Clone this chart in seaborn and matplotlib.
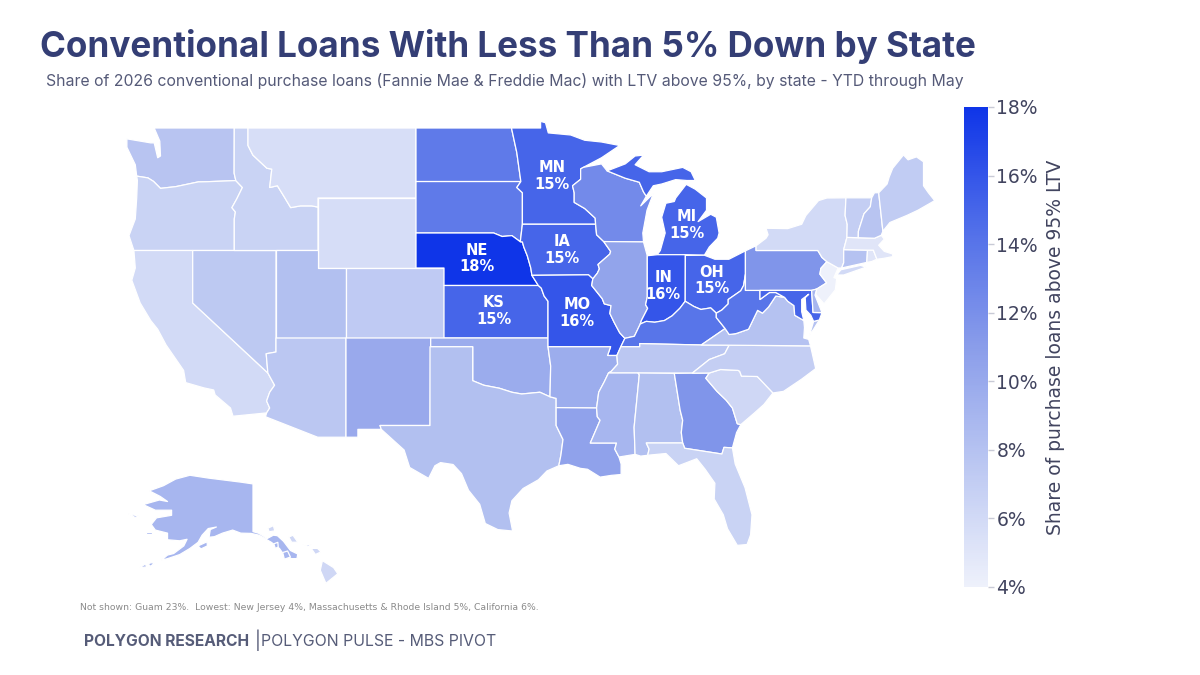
import matplotlib
matplotlib.use("Agg")
import matplotlib.pyplot as plt
import numpy as np
import seaborn as sns
from matplotlib.cm import ScalarMappable
from matplotlib.collections import PolyCollection
from matplotlib.colors import Normalize

TITLE = "Conventional Loans With Less Than 5% Down by State"
SUBTITLE = ("Share of 2026 conventional purchase loans (Fannie Mae & Freddie Mac) "
            "with LTV above 95%, by state - YTD through May")
NOTE = "Not shown: Guam 23%.  Lowest: New Jersey 4%, Massachusetts & Rhode Island 5%, California 6%."
BAR_LABEL = "Share of purchase loans above 95% LTV"
BAR_TICKS = [4, 6, 8, 10, 12, 14, 16, 18]

STATE_CODES = ["WA", "OR", "CA", "NV", "ID", "MT", "WY", "UT", "AZ", "CO", "NM", "ND", "SD",
               "NE", "KS", "OK", "TX", "MN", "IA", "MO", "AR", "LA", "WI", "IL", "MI", "IN",
               "OH", "KY", "TN", "MS", "AL", "GA", "FL", "SC", "NC", "VA", "WV", "PA", "MD",
               "DE", "NJ", "NY", "CT", "RI", "MA", "VT", "NH", "ME", "AK", "HI"]
STATE_VALUES = [7.8, 6.6, 6.0, 7.4, 6.6, 5.6, 5.7, 8.2, 7.6, 7.3, 10.0, 13.6, 13.6,
                18.0, 15.0, 9.8, 8.2, 15.0, 15.0, 16.0, 9.7, 10.6, 12.4, 10.4, 15.0, 16.0,
                15.0, 14.0, 7.6, 9.0, 8.2, 11.6, 6.6, 6.2, 7.0, 8.0, 14.0, 11.6, 15.0,
                9.0, 4.0, 6.0, 8.0, 5.0, 5.0, 7.0, 7.8, 7.2, 9.0, 6.2]

LABEL_CODES = ["NE", "KS", "MN", "MI", "IA", "OH", "IN", "MO"]
LABEL_TEXT = ["18%", "15%", "15%", "15%", "15%", "15%", "16%", "16%"]
LABEL_LON = [-99.7, -98.48, -94.34, -84.7, -93.6, -82.9, -86.4, -92.55]
LABEL_LAT = [41.55, 38.54, 46.26, 43.46, 42.03, 40.3, 39.97, 38.43]

# shared borders, lon/lat
MN_WI = [(-92.1, 46.75), (-92.29, 46.66), (-92.29, 46.07), (-92.87, 45.7), (-92.75, 45.3),
         (-92.75, 44.75), (-92.0, 44.4), (-91.25, 43.85), (-91.22, 43.5)]
IA_WI = [(-91.22, 43.5), (-91.15, 42.9), (-90.64, 42.51)]
IA_IL = [(-90.64, 42.51), (-90.15, 41.95), (-90.2, 41.8), (-91.05, 41.2), (-90.95, 40.95),
         (-91.1, 40.7), (-91.42, 40.38)]
MO_IL = [(-91.42, 40.38), (-91.5, 40.0), (-90.75, 39.25), (-90.6, 38.95), (-90.12, 38.85),
         (-90.2, 38.4), (-89.9, 37.9), (-89.5, 37.3), (-89.13, 36.98)]
TN_AR_MS = [(-89.7, 36.0), (-89.65, 35.5), (-90.1, 35.1), (-90.3, 35.0)]
AR_MS = [(-90.3, 35.0), (-90.6, 34.5), (-91.0, 33.9), (-91.15, 33.0)]
MS_LA = [(-91.15, 33.0), (-91.1, 32.5), (-90.9, 32.3), (-91.6, 31.0), (-89.73, 31.0),
         (-89.85, 30.65), (-89.55, 30.2)]
OHIO_WV = [(-80.52, 40.64), (-80.65, 40.0), (-80.85, 39.7), (-81.75, 39.2), (-81.75, 38.95),
           (-82.2, 38.6), (-82.6, 38.42)]
OH_KY = [(-82.6, 38.42), (-83.0, 38.72), (-83.7, 38.63), (-84.2, 38.8), (-84.82, 39.1)]
IN_KY = [(-84.82, 39.1), (-85.2, 38.7), (-85.75, 38.27), (-86.3, 38.0), (-87.0, 37.9),
         (-87.6, 37.95), (-88.03, 37.8)]
IL_IN = [(-87.53, 41.7), (-87.53, 39.35), (-87.65, 38.9), (-87.5, 38.7), (-87.95, 38.0),
         (-88.03, 37.8)]
VA_WV = [(-77.72, 39.32), (-78.35, 39.4), (-78.87, 38.77), (-79.3, 38.42), (-79.65, 38.58),
         (-80.3, 37.5), (-81.2, 37.25), (-81.68, 37.2), (-81.97, 37.54)]
TN_NC = [(-81.68, 36.59), (-82.0, 36.1), (-83.1, 35.77), (-84.32, 34.99)]
NC_SC = [(-83.1, 35.0), (-82.3, 35.2), (-81.05, 35.15), (-80.93, 35.1), (-80.8, 34.82),
         (-79.67, 34.8), (-78.55, 33.86)]
GA_SC = [(-80.85, 32.05), (-81.1, 32.1), (-81.45, 33.0), (-81.9, 33.45), (-82.55, 33.95),
         (-83.35, 34.7), (-83.1, 35.0)]
GA_AL = [(-85.6, 34.98), (-85.18, 32.87), (-85.0, 32.3), (-85.1, 31.6), (-85.0, 31.0)]
MO_KS = [(-94.62, 39.1), (-94.9, 39.4), (-95.1, 39.85), (-95.31, 40.0)]
NE_IA = [(-95.31, 40.0), (-95.77, 40.58), (-95.85, 41.0), (-96.1, 41.7), (-96.35, 42.2),
         (-96.45, 42.49), (-96.6, 42.5)]
NE_SD = [(-96.6, 42.5), (-97.2, 42.85), (-97.9, 42.8), (-98.5, 43.0), (-104.05, 43.0)]
OR_WA = [(-116.92, 45.995), (-119.0, 45.93), (-119.6, 45.92), (-121.2, 45.65), (-122.3, 45.55),
         (-122.8, 45.95), (-123.2, 46.15), (-124.0, 46.25)]
ID_OR = [(-116.92, 45.995), (-116.45, 45.6), (-116.85, 44.95), (-117.2, 44.45), (-116.95, 44.2),
         (-117.03, 43.8), (-117.03, 42.0)]
ID_MT = [(-116.05, 48.0), (-115.7, 47.45), (-114.7, 46.7), (-114.35, 46.65), (-114.5, 45.6),
         (-113.95, 45.7), (-113.45, 45.05), (-113.0, 44.45), (-112.3, 44.55), (-111.5, 44.55),
         (-111.05, 44.48)]
AZ_CA = [(-114.63, 35.0), (-114.15, 34.3), (-114.5, 33.9), (-114.72, 33.4), (-114.5, 33.0),
         (-114.72, 32.72)]
RED_RIVER = [(-94.48, 33.64), (-95.2, 33.9), (-96.5, 33.8), (-97.2, 33.9), (-98.1, 34.13),
             (-99.2, 34.3), (-100.0, 34.56)]
MD_VA = [(-76.35, 38.0), (-77.0, 38.3), (-77.05, 38.85), (-77.5, 39.1), (-77.72, 39.32)]

rev = lambda chain: chain[::-1]

STATE_SHAPES = {
    "WA": [[(-124.7, 48.38), (-123.0, 48.15), (-122.75, 48.15), (-122.5, 47.3), (-122.3, 47.4),
            (-122.35, 48.25), (-122.75, 49.0), (-117.03, 49.0), (-117.04, 46.42)] + OR_WA
           + [(-124.1, 46.9), (-124.7, 47.9)]],
    "OR": [rev(OR_WA) + ID_OR[1:] + [(-124.2, 42.0), (-124.55, 42.85), (-124.1, 43.8),
                                     (-124.0, 45.0), (-123.95, 46.0)]],
    "CA": [[(-124.2, 42.0), (-120.0, 42.0), (-120.0, 39.0)] + AZ_CA
           + [(-117.12, 32.53), (-117.3, 33.0), (-118.4, 33.75), (-118.5, 34.03), (-119.2, 34.15),
              (-120.5, 34.45), (-120.65, 35.15), (-121.9, 36.6), (-122.5, 37.5), (-123.0, 38.0),
              (-123.75, 39.0), (-124.35, 40.3), (-124.1, 41.0)]],
    "NV": [[(-120.0, 42.0), (-114.05, 42.0), (-114.05, 36.2), (-114.75, 36.1), (-114.63, 35.0),
            (-120.0, 39.0)]],
    "ID": [[(-117.03, 49.0), (-116.05, 49.0)] + ID_MT + [(-111.05, 42.0)] + rev(ID_OR)
           + [(-117.04, 46.42)]],
    "MT": [[(-116.05, 49.0), (-104.05, 49.0), (-104.05, 45.0), (-111.05, 45.0)] + rev(ID_MT)],
    "WY": [[(-111.05, 45.0), (-104.05, 45.0), (-104.05, 41.0), (-111.05, 41.0)]],
    "UT": [[(-114.05, 42.0), (-111.05, 42.0), (-111.05, 41.0), (-109.05, 41.0), (-109.05, 37.0),
            (-114.05, 37.0)]],
    "AZ": [[(-114.05, 37.0), (-109.05, 37.0), (-109.05, 31.33), (-111.07, 31.33), (-114.8, 32.5)]
           + rev(AZ_CA) + [(-114.75, 36.1), (-114.05, 36.2)]],
    "CO": [[(-109.05, 41.0), (-102.05, 41.0), (-102.05, 37.0), (-109.05, 37.0)]],
    "NM": [[(-109.05, 37.0), (-103.0, 37.0), (-103.05, 32.0), (-106.62, 32.0), (-106.53, 31.78),
            (-108.2, 31.78), (-108.2, 31.33), (-109.05, 31.33)]],
    "ND": [[(-104.05, 49.0), (-97.23, 49.0), (-96.85, 47.6), (-96.56, 45.94), (-104.05, 45.94)]],
    "SD": [[(-104.05, 45.94), (-96.56, 45.94), (-96.85, 45.6), (-96.45, 45.3), (-96.45, 43.5)]
           + NE_SD],
    "NE": [[(-104.05, 43.0), (-98.5, 43.0), (-97.9, 42.8), (-97.2, 42.85)] + rev(NE_IA)
           + [(-102.05, 40.0), (-102.05, 41.0), (-104.05, 41.0)]],
    "KS": [[(-102.05, 40.0)] + rev(MO_KS) + [(-94.62, 37.0), (-102.05, 37.0)]],
    "OK": [[(-103.0, 37.0), (-94.62, 37.0), (-94.62, 36.5), (-94.43, 35.4)] + RED_RIVER
           + [(-100.0, 36.5), (-103.0, 36.5)]],
    "TX": [[(-103.05, 36.5), (-100.0, 36.5)] + rev(RED_RIVER)
           + [(-94.04, 33.55), (-94.04, 32.0), (-93.55, 31.2), (-93.7, 30.3), (-93.85, 29.7),
              (-94.7, 29.4), (-95.3, 28.9), (-96.4, 28.4), (-97.2, 27.7), (-97.4, 27.0),
              (-97.15, 25.97), (-98.2, 26.05), (-99.1, 26.4), (-99.5, 27.5), (-100.3, 28.3),
              (-100.8, 29.25), (-101.4, 29.77), (-102.3, 29.88), (-102.7, 29.7), (-103.15, 28.98),
              (-104.5, 29.6), (-104.9, 30.6), (-106.53, 31.78), (-106.62, 32.0), (-103.05, 32.0)]],
    "MN": [[(-97.23, 49.0), (-95.15, 49.0), (-95.15, 49.38), (-94.8, 49.3), (-94.6, 48.72),
            (-93.0, 48.6), (-92.0, 48.3), (-90.8, 48.2), (-89.5, 48.0), (-90.8, 47.3)] + MN_WI
           + [(-96.45, 43.5), (-96.45, 45.3), (-96.85, 45.6), (-96.56, 45.94), (-96.85, 47.6)]],
    "IA": [[(-96.45, 43.5)] + IA_WI + IA_IL[1:] + [(-91.73, 40.61), (-95.77, 40.58)]
           + NE_IA[2:]],
    "MO": [[(-95.77, 40.58), (-91.73, 40.61)] + MO_IL
           + [(-89.42, 36.5), (-89.7, 36.0), (-90.37, 36.0), (-90.15, 36.5), (-94.62, 36.5)]
           + MO_KS],
    "AR": [[(-94.62, 36.5), (-90.15, 36.5), (-90.37, 36.0)] + TN_AR_MS + AR_MS[1:]
           + [(-94.04, 33.02), (-94.04, 33.55), (-94.48, 33.64), (-94.43, 35.4)]],
    "LA": [[(-94.04, 33.02)] + MS_LA
           + [(-89.4, 29.8), (-89.4, 29.2), (-90.1, 29.15), (-90.9, 29.05), (-91.8, 29.5),
              (-92.3, 29.55), (-93.2, 29.78), (-93.85, 29.7), (-93.7, 30.3), (-93.55, 31.2),
              (-94.04, 32.0)]],
    "WI": [[(-92.1, 46.75), (-90.8, 46.95), (-90.4, 46.55), (-89.1, 46.13), (-88.1, 45.9),
            (-87.8, 45.35), (-87.6, 45.1), (-88.0, 44.55), (-87.1, 45.25), (-87.55, 44.3),
            (-87.85, 43.0), (-87.8, 42.49)] + rev(IA_WI) + rev(MN_WI)[1:]],
    "IL": [[(-90.64, 42.51), (-87.8, 42.49)] + IL_IN + [(-88.45, 37.1)] + rev(MO_IL) + rev(IA_IL)[1:]],
    "IN": [[(-87.53, 41.7), (-86.82, 41.76), (-84.81, 41.76)] + IN_KY + rev(IL_IN)[1:]],
    "OH": [[(-84.81, 41.72), (-83.45, 41.73), (-82.7, 41.5), (-81.7, 41.5), (-80.52, 41.98)]
           + OHIO_WV + OH_KY[1:]],
    "MI": [[(-86.82, 41.76), (-84.81, 41.76), (-83.45, 41.73), (-83.1, 42.2), (-82.5, 42.7),
            (-82.4, 43.0), (-82.6, 43.9), (-83.0, 44.07), (-83.9, 43.65), (-83.3, 44.3),
            (-83.3, 45.0), (-84.1, 45.5), (-84.75, 45.78), (-85.5, 45.0), (-85.6, 44.8),
            (-86.2, 44.7), (-86.5, 43.9), (-86.25, 43.0), (-86.6, 42.0)],
           [(-90.4, 46.55), (-89.1, 46.95), (-88.4, 47.4), (-87.8, 47.45), (-88.4, 46.9),
            (-87.4, 46.5), (-86.5, 46.5), (-85.0, 46.75), (-84.4, 46.5), (-84.1, 46.0),
            (-84.7, 46.0), (-85.5, 46.05), (-86.5, 45.8), (-87.1, 45.7), (-87.6, 45.1),
            (-87.8, 45.35), (-88.1, 45.9), (-89.1, 46.13)]],
    "KY": [[(-89.42, 36.5), (-89.13, 36.98), (-88.45, 37.1)] + rev(IN_KY) + rev(OH_KY)[1:]
           + [(-82.6, 38.17), (-81.97, 37.54), (-83.68, 36.6), (-88.07, 36.68), (-88.07, 36.5)]],
    "TN": [[(-89.42, 36.5), (-88.07, 36.5), (-88.07, 36.68), (-83.68, 36.6)] + TN_NC
           + rev(TN_AR_MS)],
    "MS": [[(-90.3, 35.0), (-88.2, 35.0), (-88.1, 34.9), (-88.47, 31.9), (-88.4, 30.35)]
           + rev(MS_LA) + rev(AR_MS)[1:]],
    "AL": [[(-88.2, 35.0)] + GA_AL + [(-87.6, 31.0), (-87.4, 30.65), (-87.5, 30.3), (-88.0, 30.25),
                                      (-88.4, 30.35), (-88.47, 31.9), (-88.1, 34.9)]],
    "GA": [[(-85.6, 34.98), (-84.32, 34.99)] + rev(GA_SC)
           + [(-81.15, 31.6), (-81.45, 30.72), (-82.05, 30.75), (-82.2, 30.37), (-84.86, 30.7)]
           + rev(GA_AL)[:-1]],
    "FL": [[(-87.6, 31.0), (-85.0, 31.0), (-84.86, 30.7), (-82.2, 30.37), (-82.05, 30.75),
            (-81.45, 30.72), (-81.25, 29.8), (-80.55, 28.45), (-80.05, 26.9), (-80.15, 25.75),
            (-80.4, 25.2), (-81.1, 25.15), (-81.8, 26.1), (-82.1, 26.9), (-82.75, 27.8),
            (-82.7, 28.7), (-83.4, 29.5), (-84.0, 30.1), (-85.3, 29.7), (-86.2, 30.4),
            (-87.5, 30.3), (-87.4, 30.65)]],
    "SC": [NC_SC + [(-79.2, 33.2), (-79.9, 32.7)] + GA_SC],
    "NC": [[(-81.68, 36.59), (-75.87, 36.55), (-75.5, 35.25), (-76.5, 34.65), (-77.8, 33.95)]
           + rev(NC_SC) + rev(TN_NC)[:-1]],
    "VA": [[(-81.68, 36.59), (-75.87, 36.55), (-76.0, 36.92), (-76.35, 37.0), (-76.3, 37.6)]
           + MD_VA + VA_WV[1:] + [(-83.68, 36.6)],
           [(-75.24, 38.03), (-75.65, 37.95), (-75.95, 37.15), (-75.65, 37.5)]],
    "WV": [[(-80.52, 40.64), (-80.52, 39.72), (-79.48, 39.72), (-79.48, 39.2), (-78.8, 39.6),
            (-78.35, 39.6)] + VA_WV + [(-82.6, 38.17)] + rev(OHIO_WV)[:-1]],
    "PA": [[(-80.52, 41.98), (-79.76, 42.27), (-79.76, 42.0), (-75.35, 42.0), (-75.05, 41.6),
            (-74.7, 41.36), (-75.13, 40.98), (-75.2, 40.65), (-74.72, 40.15), (-75.42, 39.8),
            (-75.79, 39.72), (-80.52, 39.72), (-80.52, 40.64)]],
    "MD": [[(-79.48, 39.72), (-75.79, 39.72), (-75.69, 38.46), (-75.05, 38.45), (-75.24, 38.03),
            (-75.65, 37.95), (-75.85, 38.3), (-76.2, 38.6), (-76.25, 39.3), (-76.0, 39.5),
            (-76.5, 39.2), (-76.5, 38.5), (-76.35, 38.0)] + MD_VA[1:]
           + [(-78.35, 39.6), (-78.8, 39.6), (-79.48, 39.2)]],
    "DE": [[(-75.79, 39.72), (-75.42, 39.8), (-75.55, 39.45), (-75.05, 38.45), (-75.69, 38.46)]],
    "NJ": [[(-74.7, 41.36), (-73.9, 41.0), (-74.2, 40.45), (-74.0, 40.4), (-74.1, 39.75),
            (-74.9, 38.95), (-75.5, 39.5), (-75.42, 39.8), (-74.72, 40.15), (-75.2, 40.65),
            (-75.13, 40.98)]],
    "NY": [[(-79.76, 42.27), (-79.05, 42.7), (-78.9, 42.9), (-79.05, 43.27), (-77.5, 43.25),
            (-76.5, 43.5), (-76.2, 44.0), (-75.3, 44.85), (-74.7, 45.0), (-73.34, 45.01),
            (-73.4, 44.0), (-73.25, 43.5), (-73.27, 42.75), (-73.5, 42.05), (-73.5, 41.3),
            (-73.65, 41.0), (-73.9, 41.0), (-74.7, 41.36), (-75.05, 41.6), (-75.35, 42.0),
            (-79.76, 42.0)],
           [(-74.0, 40.6), (-73.7, 40.9), (-72.3, 41.15), (-71.9, 41.05), (-73.5, 40.6)]],
    "CT": [[(-73.5, 42.05), (-71.8, 42.02), (-71.85, 41.32), (-73.65, 41.0), (-73.5, 41.3)]],
    "RI": [[(-71.8, 42.02), (-71.38, 42.02), (-71.13, 41.5), (-71.5, 41.37), (-71.85, 41.32)]],
    "MA": [[(-73.5, 42.05), (-73.27, 42.75), (-72.46, 42.73), (-71.3, 42.7), (-70.82, 42.87),
            (-70.6, 42.65), (-71.0, 42.3), (-70.6, 41.95), (-70.0, 41.8), (-70.0, 41.65),
            (-70.65, 41.55), (-71.13, 41.5), (-71.38, 42.02), (-71.8, 42.02)]],
    "VT": [[(-73.34, 45.01), (-71.5, 45.01), (-71.6, 44.5), (-72.05, 44.1), (-72.45, 43.1),
            (-72.46, 42.73), (-73.27, 42.75), (-73.25, 43.5), (-73.4, 44.0)]],
    "NH": [[(-71.5, 45.01), (-71.3, 45.3), (-71.0, 45.3), (-70.7, 43.1), (-70.82, 42.87),
            (-71.3, 42.7), (-72.46, 42.73), (-72.45, 43.1), (-72.05, 44.1), (-71.6, 44.5)]],
    "ME": [[(-71.0, 45.3), (-70.4, 45.8), (-70.25, 46.2), (-70.0, 46.7), (-69.23, 47.46),
            (-68.9, 47.18), (-68.3, 47.35), (-67.8, 47.07), (-67.8, 45.7), (-67.45, 45.3),
            (-67.0, 44.85), (-68.2, 44.3), (-69.0, 44.0), (-70.2, 43.6), (-70.7, 43.1)]],
}

ALASKA_SHAPES = [
    [(-141.0, 69.65), (-141.0, 60.3), (-139.5, 59.95), (-137.5, 58.95), (-136.0, 59.6),
     (-135.0, 59.5), (-133.5, 58.4), (-131.8, 56.6), (-130.0, 55.9), (-130.2, 55.0),
     (-131.5, 55.0), (-133.2, 55.5), (-134.5, 57.0), (-136.5, 58.2), (-139.5, 59.6),
     (-141.5, 59.95), (-144.0, 60.0), (-146.0, 60.6), (-148.5, 60.0), (-150.5, 59.3),
     (-151.8, 59.2), (-151.5, 60.7), (-150.0, 61.2), (-152.0, 60.9), (-153.5, 59.6),
     (-154.5, 58.2), (-156.5, 57.0), (-159.0, 55.8), (-162.0, 55.0), (-163.5, 54.7),
     (-162.0, 55.7), (-160.5, 56.0), (-158.0, 57.5), (-157.2, 58.8), (-159.0, 58.5),
     (-162.0, 58.7), (-162.0, 60.0), (-165.0, 60.6), (-166.0, 61.7), (-164.7, 63.0),
     (-161.0, 63.5), (-161.0, 64.5), (-165.0, 64.5), (-168.0, 65.6), (-164.0, 66.5),
     (-162.0, 66.2), (-163.8, 67.2), (-166.5, 68.3), (-163.0, 69.3), (-160.0, 70.6),
     (-156.5, 71.35), (-152.0, 70.8), (-148.0, 70.4), (-144.0, 70.0)],
    [(-154.5, 57.5), (-152.3, 58.3), (-152.2, 57.5), (-153.8, 56.9)],
    [(-167.3, 60.3), (-165.7, 60.3), (-165.7, 59.9), (-167.2, 59.9)],
    [(-171.7, 63.8), (-168.8, 63.3), (-170.0, 63.1)],
    [(-166.8, 54.0), (-166.0, 54.2), (-165.2, 54.1), (-166.2, 53.5)],
    [(-169.0, 53.2), (-167.5, 53.9), (-167.0, 53.4)],
    [(-135.9, 57.9), (-134.9, 58.2), (-134.8, 57.3), (-135.5, 57.0)],
    [(-133.7, 56.2), (-132.5, 56.5), (-131.8, 55.3), (-133.3, 54.9)],
]

HAWAII_SHAPES = [
    [(-159.8, 22.1), (-159.4, 22.25), (-159.3, 21.95), (-159.7, 21.9)],
    [(-158.3, 21.6), (-158.0, 21.7), (-157.65, 21.3), (-158.1, 21.3)],
    [(-157.3, 21.2), (-156.7, 21.15), (-156.9, 21.05)],
    [(-156.7, 20.95), (-156.25, 20.95), (-156.0, 20.75), (-156.4, 20.6)],
    [(-155.9, 20.25), (-155.1, 19.85), (-154.8, 19.5), (-155.65, 18.95), (-156.05, 19.7)],
]

# pixels of the reference per degree
PX_LON = 14.0
PX_LAT = 17.5


def inset_polys(shapes, lon0, lat0, x0, y0, sx, sy):
    # move an inset state to its place under the lower 48
    out = []
    for shape in shapes:
        arr = np.array(shape)
        px = x0 + (arr[:, 0] - lon0) * sx
        py = y0 + (lat0 - arr[:, 1]) * sy
        out.append(np.column_stack([-109.05 + (px - 346) / PX_LON, 41 + (268 - py) / PX_LAT]))
    return out


sns.set_theme(style="white")
plt.rcParams["font.family"] = ["DejaVu Sans"]
fig = plt.figure(figsize=(12, 6.75), dpi=100)
ax = fig.add_axes([0, 0, 1, 1])
ax.set_xlim(-109.05 - 346 / PX_LON, -109.05 + (1200 - 346) / PX_LON)
ax.set_ylim(41 - (675 - 268) / PX_LAT, 41 + 268 / PX_LAT)
ax.axis("off")

cmap = sns.blend_palette(["#eef1fb", "#bcc8f2", "#8a9dea", "#506ee9", "#0f35e8"], as_cmap=True)
norm = Normalize(4, 18)

polys = []
poly_values = []
for code, value in zip(STATE_CODES, STATE_VALUES):
    if code == "AK":
        parts = inset_polys(ALASKA_SHAPES, -141, 71.4, 253, 475, 4.07, 5.1)
    elif code == "HI":
        parts = inset_polys(HAWAII_SHAPES, -155.5, 19.6, 328, 572, 14, 17.5)
    else:
        parts = [np.array(p) for p in STATE_SHAPES[code]]
    polys.extend(parts)
    poly_values.extend([value] * len(parts))

ax.add_collection(PolyCollection(polys, array=np.array(poly_values), cmap=cmap, norm=norm,
                                 edgecolors="white", linewidths=0.9))

for code, text, lon, lat in zip(LABEL_CODES, LABEL_TEXT, LABEL_LON, LABEL_LAT):
    ax.text(lon, lat, f"{code}\n{text}", color="white", fontsize=10.5, fontweight="bold",
            ha="center", va="center", linespacing=1.1)

cax = fig.add_axes([964 / 1200, 1 - 587 / 675, 24 / 1200, 480 / 675])
cbar = fig.colorbar(ScalarMappable(norm=norm, cmap=cmap), cax=cax, ticks=BAR_TICKS)
cbar.ax.set_yticklabels([f"{t}%" for t in BAR_TICKS])
cbar.outline.set_visible(False)
cbar.ax.tick_params(axis="y", right=True, length=4, width=1, color="#c8cad6", labelsize=13.5,
                    labelcolor="#41445f", pad=2)
cbar.set_label(BAR_LABEL, fontsize=13.5, color="#41445f", labelpad=6)

fig.text(40 / 1200, 1 - 47 / 675, TITLE, family="Inter", fontsize=25.25, fontweight="bold",
         color="#343e75", va="center")
fig.text(46 / 1200, 1 - 81 / 675, SUBTITLE, family="Inter", fontsize=11.37, color="#555a78",
         va="center")
fig.text(80 / 1200, 1 - 608 / 675, NOTE, fontsize=6.7, color="#8a8a8a", va="center")
fig.text(84 / 1200, 1 - 641 / 675, "POLYGON RESEARCH", family="Inter", fontsize=11.2,
         fontweight="bold", color="#565c78", va="center")
fig.text(255 / 1200, 1 - 640 / 675, "|", family="Inter", fontsize=13, color="#565c78", va="center")
fig.text(261 / 1200, 1 - 641 / 675, "POLYGON PULSE - MBS PIVOT", family="Inter", fontsize=11.4,
         color="#565c78", va="center")

fig.savefig("out.png", dpi=100, facecolor="white")
